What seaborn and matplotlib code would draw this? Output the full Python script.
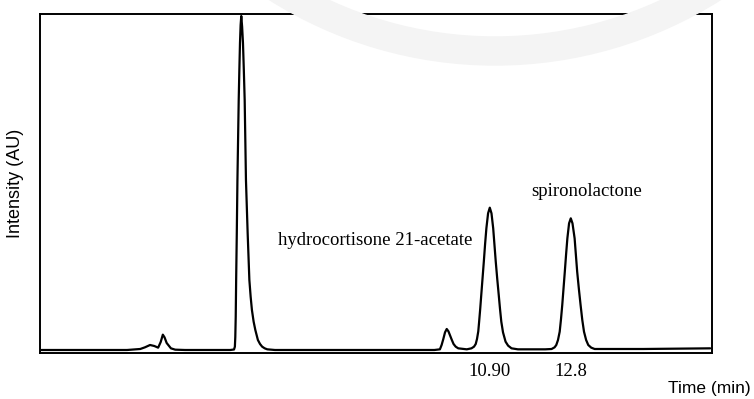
"""
Chromatogram: hydrocortisone 21-acetate and spironolactone
"""

import matplotlib
matplotlib.use("Agg")
import matplotlib.pyplot as plt
from matplotlib.patches import Wedge
import seaborn as sns
import pandas as pd

# trace (time in min, intensity in AU)
time_min = [0.38, 1.50, 2.39, 2.70, 2.81, 2.93, 3.03, 3.12, 3.18, 3.23, 3.27, 3.32, 3.42, 3.52, 3.75,
            4.81, 4.90, 4.92, 4.93, 4.94, 4.95, 4.965, 4.98, 4.995, 5.01, 5.025, 5.04, 5.055, 5.07,
            5.09, 5.11, 5.13, 5.15, 5.165, 5.18, 5.22, 5.26, 5.29, 5.32, 5.36, 5.40, 5.46, 5.51,
            5.56, 5.62, 5.68, 5.86, 7.50,
            9.60, 9.73, 9.77, 9.81, 9.85, 9.89, 9.93, 9.97, 10.01, 10.05, 10.10, 10.16, 10.36,
            10.47, 10.53, 10.57, 10.60, 10.63, 10.65, 10.675, 10.70, 10.73, 10.76, 10.79, 10.82,
            10.86, 10.90, 10.94, 10.98, 11.01, 11.04, 11.075, 11.11, 11.14, 11.17, 11.21, 11.27,
            11.33, 11.41, 11.56, 12.20,
            12.35, 12.42, 12.46, 12.50, 12.54, 12.57, 12.60, 12.63, 12.66, 12.69, 12.72, 12.76,
            12.80, 12.84, 12.89, 12.92, 12.95, 12.99, 13.03, 13.07, 13.11, 13.16, 13.21, 13.28,
            13.36, 14.50, 16.07]
intensity_au = [0.0, 0.0, 0.0, 0.3, 0.8, 1.5, 1.2, 0.7, 2.4, 4.6, 3.8, 2.1, 0.5, 0.1, 0.0,
                0.0, 0.15, 1.0, 3.9, 10.0, 21.0, 35.0, 51.0, 63.0, 75.0, 84.0, 92.1, 97.5, 100.2,
                97.0, 92.1, 84.0, 75.0, 63.0, 51.0, 35.0, 21.0, 16.0, 12.0, 8.5, 6.0, 3.0, 1.8,
                1.0, 0.5, 0.2, 0.0, 0.0,
                0.0, 0.2, 1.5, 3.3, 5.3, 6.3, 5.6, 4.3, 3.0, 1.8, 1.0, 0.5, 0.2,
                0.5, 1.0, 1.8, 3.3, 5.6, 8.5, 12.3, 16.5, 21.5, 26.5, 31.8, 36.5,
                41.0, 42.7, 41.0, 36.5, 31.5, 26.5, 21.3, 16.5, 12.3, 8.5, 5.3, 2.5,
                1.3, 0.5, 0.2, 0.2,
                0.3, 0.8, 1.5, 3.0, 5.5, 9.2, 13.5, 18.5, 23.5, 28.7, 33.5, 38.0,
                39.5, 38.0, 33.5, 28.5, 23.5, 18.3, 13.5, 9.0, 5.5, 3.0, 1.5, 0.7,
                0.3, 0.3, 0.5]

# marked retention times
tick_times = [10.90, 12.8]
tick_labels = ["10.90", "12.8"]

# peak annotations
peak_names = ["hydrocortisone 21-acetate", "spironolactone"]
peak_label_x = [8.21, 13.17]
peak_label_y = [32.7, 47.4]

df = pd.DataFrame({"time": time_min, "intensity": intensity_au})

sns.set_theme(style="white")
plt.rcParams["font.family"] = ["Liberation Sans", "DejaVu Sans"]

fig = plt.figure(figsize=(7.54, 3.99), dpi=100)

# faint watermark ring at the top
ring = Wedge((4.95, 7.56), 4.22, 205, 335, width=0.28, color="#f4f4f4",
             transform=fig.dpi_scale_trans, zorder=0)
fig.patches.append(ring)

ax = fig.add_axes([0.0537, 0.1153, 0.891, 0.8496])
ax.set_facecolor("none")

sns.lineplot(data=df, x="time", y="intensity", ax=ax, color="black",
             linewidth=1.6, estimator=None, sort=False)

ax.set_xlim(0.36, 16.12)
ax.set_ylim(-0.9, 100.8)

for side in ["left", "right", "top", "bottom"]:
    ax.spines[side].set_visible(True)
    ax.spines[side].set_color("black")
    ax.spines[side].set_linewidth(1.4)

ax.set_yticks([])
ax.set_xticks(tick_times)
ax.set_xticklabels(tick_labels, family="Liberation Serif", fontsize=13.5)
ax.tick_params(axis="x", length=0, pad=7, colors="black")

ax.set_ylabel("Intensity (AU)", fontsize=13, color="black", labelpad=12)
ax.set_xlabel("Time (min)", fontsize=12.5, color="black")
ax.xaxis.set_label_coords(0.995, -0.083)

for name, x, y in zip(peak_names, peak_label_x, peak_label_y):
    ax.text(x, y, name, family="Liberation Serif", fontsize=13.5,
            ha="center", va="center", color="black")

fig.savefig("out.png", dpi=100)
